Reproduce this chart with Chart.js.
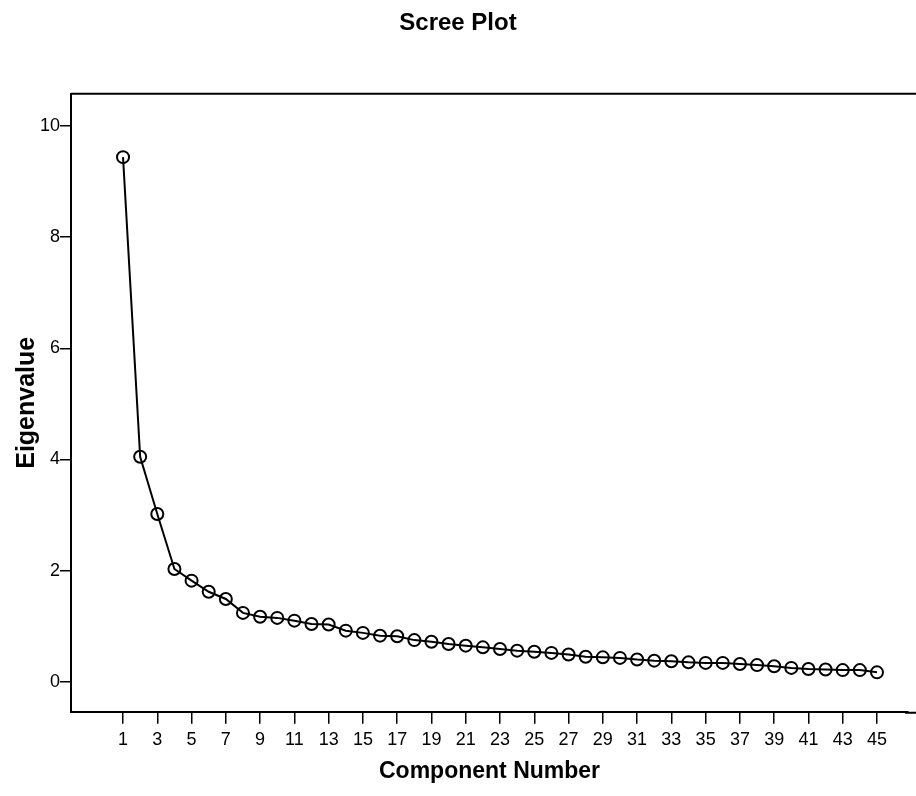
<!DOCTYPE html>
<html>
<head>
<meta charset="utf-8">
<script src="https://cdn.jsdelivr.net/npm/chart.js@4"></script>
<style>
  body { margin: 0; background: #fff; overflow: hidden; }
  canvas { display: block; }
</style>
</head>
<body>
<canvas id="cchart" width="916" height="796"></canvas>
<script>
const components = [];
for (let i = 1; i <= 45; i++) components.push(i);
const eigenvalues = [
  9.44, 4.05, 3.02, 2.03, 1.82, 1.62, 1.49, 1.24, 1.17, 1.15,
  1.10, 1.04, 1.03, 0.92, 0.88, 0.83, 0.82, 0.75, 0.72, 0.68,
  0.65, 0.62, 0.59, 0.56, 0.54, 0.52, 0.49, 0.45, 0.44, 0.43,
  0.40, 0.38, 0.37, 0.35, 0.34, 0.34, 0.32, 0.30, 0.28, 0.25,
  0.23, 0.22, 0.21, 0.21, 0.17,
];
const xTicks = [1, 3, 5, 7, 9, 11, 13, 15, 17, 19, 21, 23, 25, 27, 29, 31, 33, 35, 37, 39, 41, 43, 45];
const yTicks = [0, 2, 4, 6, 8, 10];

const FONT = "'Liberation Sans Narrow', 'Arial Narrow', 'Liberation Sans', Arial, sans-serif";

// frame lines of the plot area, running out to the right edge of the picture
const frameLines = {
  id: 'frameLines',
  afterDraw(chart) {
    const { ctx, chartArea, width } = chart;
    const xAxis = chart.scales.x;
    ctx.save();
    ctx.strokeStyle = 'black';
    ctx.lineWidth = 2;
    ctx.beginPath();
    ctx.moveTo(chartArea.left, chartArea.top);
    ctx.lineTo(width, chartArea.top);
    ctx.moveTo(chartArea.right - 3, xAxis.top + 1);
    ctx.lineTo(width, xAxis.top + 1);
    ctx.stroke();
    ctx.restore();
  },
};

let chart = null;
let drawChart = () => {
  const ctx = document.getElementById('cchart');
  if (chart) chart.destroy();

  Chart.defaults.font.family = FONT;
  Chart.defaults.color = 'black';
  chart = new Chart(ctx, {
    type: 'line',
    data: {
      datasets: [
        {
          data: components.map((c, i) => ({ x: c, y: eigenvalues[i] })),
          borderColor: 'black',
          borderWidth: 2,
          pointRadius: 6,
          pointBorderWidth: 2,
          pointBackgroundColor: 'rgba(255,255,255,0)',
          pointBorderColor: 'black',
          fill: false,
          tension: 0,
        },
      ],
    },
    options: {
      animation: false,
      responsive: false,
      layout: { padding: { left: 0, right: 0, top: 0, bottom: 11 } },
      plugins: {
        legend: { display: false },
        tooltip: { enabled: false },
        title: {
          display: true,
          text: 'Scree Plot',
          font: { size: 24, weight: 'bold' },
          padding: { top: 9, bottom: 56 },
        },
      },
      scales: {
        x: {
          type: 'linear',
          min: -2.035,
          max: 46.81,
          afterBuildTicks: (axis) => {
            axis.ticks = xTicks.map((v) => ({ value: v }));
          },
          ticks: { font: { size: 18 }, padding: 5, maxRotation: 0, autoSkip: false },
          grid: { drawOnChartArea: false, drawTicks: true, tickLength: 12, color: 'black', lineWidth: 1.5 },
          border: { display: true, color: 'black', width: 2 },
          title: {
            display: true,
            text: 'Component Number',
            font: { size: 23, weight: 'bold' },
            padding: { top: 2, bottom: 0 },
          },
        },
        y: {
          min: -0.54,
          max: 10.58,
          afterBuildTicks: (axis) => {
            axis.ticks = yTicks.map((v) => ({ value: v }));
          },
          ticks: { font: { size: 18 }, padding: 0 },
          grid: { drawOnChartArea: false, drawTicks: true, tickLength: 11, color: 'black', lineWidth: 1.5 },
          border: { display: true, color: 'black', width: 2 },
          title: {
            display: true,
            text: 'Eigenvalue',
            font: { size: 25, weight: 'bold', lineHeight: 1 },
            padding: { top: 15, bottom: 0 },
          },
        },
      },
    },
    plugins: [frameLines],
  });
};

drawChart();
</script>
</body>
</html>
